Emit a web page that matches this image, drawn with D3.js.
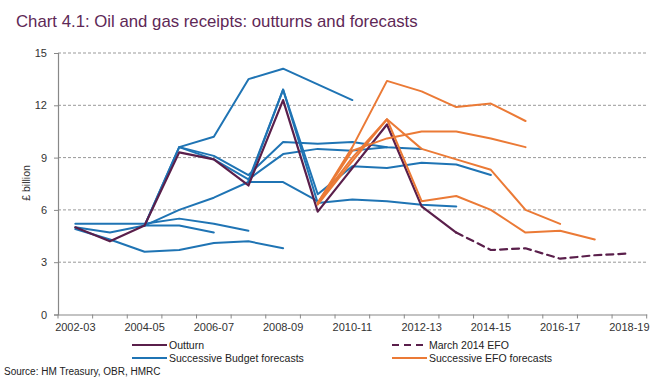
<!DOCTYPE html>
<html lang="en">
  <head>
    <meta charset="UTF-8" />
    <title>Chart 4.1: Oil and gas receipts</title>
    <script src="https://d3js.org/d3.v7.min.js"></script>
    <style>
      body { margin: 0; background: #fff; }
      text { font-family: "Liberation Sans", Arial, sans-serif; fill: #333; }
      .grid line { stroke: #999; stroke-dasharray: 3 2; }
      .line { fill: none; stroke-linejoin: round; stroke-linecap: round; }
    </style>
  </head>
  <body>
    <svg id="chart" width="670" height="387"></svg>
    <script>
      const years = ["2002-03", "2003-04", "2004-05", "2005-06", "2006-07", "2007-08", "2008-09",
        "2009-10", "2010-11", "2011-12", "2012-13", "2013-14", "2014-15", "2015-16",
        "2016-17", "2017-18", "2018-19"];
      const yTicks = [0, 3, 6, 9, 12, 15];
      const labelYears = years.filter((d, i) => i % 2 === 0);

      // values in £ billion, one per year (null = no value)
      const outturn = [5.0, 4.2, 5.1, 9.3, 8.9, 7.4, 12.3, 5.9, 8.4, 10.9, 6.2, 4.7, null, null, null, null, null];
      const march2014EFO = [null, null, null, null, null, null, null, null, null, null, null, 4.7, 3.7, 3.8, 3.2, 3.4, 3.5];

      const budget1 = [4.9, 4.3, 3.6, 3.7, 4.1, 4.2, 3.8, null, null, null, null, null, null, null, null, null, null];
      const budget2 = [5.0, 4.7, 5.1, 5.1, 4.7, null, null, null, null, null, null, null, null, null, null, null, null];
      const budget3 = [5.2, 5.2, 5.2, 5.5, 5.2, 4.8, null, null, null, null, null, null, null, null, null, null, null];
      const budget4 = [null, null, 5.1, 6.0, 6.7, 7.6, 7.6, 6.5, null, null, null, null, null, null, null, null, null];
      const budget5 = [null, null, 5.1, 9.6, 10.2, 13.5, 14.1, 13.2, 12.3, null, null, null, null, null, null, null, null];
      const budget6 = [null, null, 5.1, 9.6, 9.1, 8.0, 9.9, 9.8, 9.9, 9.6, 9.5, null, null, null, null, null, null];
      const budget7 = [null, null, null, 9.6, 8.9, 7.75, 9.2, 9.5, 9.4, 9.6, null, null, null, null, null, null, null];
      const budget8 = [null, null, null, null, null, 7.7, 12.9, 6.4, 6.6, 6.5, 6.3, 6.2, null, null, null, null, null];
      const budget9 = [null, null, null, null, null, 7.6, 12.9, 6.9, 8.5, 8.4, 8.7, 8.6, 8.0, null, null, null, null];

      const efo1 = [null, null, null, null, null, null, null, 6.4, 9.6, 13.4, 12.8, 11.9, 12.1, 11.1, null, null, null];
      const efo2 = [null, null, null, null, null, null, null, 6.3, 8.8, 11.2, 6.5, 6.8, 6.0, 4.7, 4.8, 4.3, null];
      const efo3 = [null, null, null, null, null, null, null, 6.4, 9.0, 11.2, 9.5, 8.9, 8.3, 6.0, 5.2, null, null];
      const efo4 = [null, null, null, null, null, null, null, 6.4, 9.4, 10.1, 10.5, 10.5, 10.1, 9.6, null, null, null];

      const budgets = [budget1, budget2, budget3, budget4, budget5, budget6, budget7, budget8, budget9];
      const efos = [efo1, efo2, efo3, efo4];

      const purple = "#5a1f4b", blue = "#1f74b4", orange = "#eb7a36";

      const svg = d3.select("#chart");
      const x = d3.scaleBand().domain(years).range([58, 646.7]).padding(0);
      const y = d3.scaleLinear().domain([0, 15]).range([314.5, 53]);
      const cx = (d) => x(d) + x.bandwidth() / 2;

      // title
      const title = svg.append("text")
        .attr("x", 16).attr("y", 27)
        .style("font-size", "17px").style("fill", "#5e2856")
        .text("Chart 4.1: Oil and gas receipts: outturns and forecasts");
      const tw = title.node().getComputedTextLength();
      title.style("font-size", (17 * 402 / tw) + "px");

      // gridlines
      svg.append("g").attr("class", "grid")
        .selectAll("line").data(yTicks.filter((d) => d > 0)).join("line")
        .attr("x1", 58).attr("x2", 646.7)
        .attr("y1", (d) => y(d)).attr("y2", (d) => y(d));

      // y axis
      const yAxis = svg.append("g").attr("transform", "translate(58,0)")
        .call(d3.axisLeft(y).tickValues(yTicks).tickSize(4).tickPadding(7));
      yAxis.select(".domain").attr("stroke", "#888").attr("stroke-width", 1.2);
      yAxis.selectAll(".tick line").attr("stroke", "#888");
      yAxis.selectAll("text").style("font-size", "11px").style("fill", "#333");

      svg.append("text")
        .attr("transform", "translate(30,183) rotate(-90)")
        .attr("text-anchor", "middle")
        .style("font-size", "10.5px")
        .text("£ billion");

      // x axis
      const xAxis = svg.append("g").attr("transform", "translate(0,314.5)")
        .call(d3.axisBottom(x).tickValues(labelYears).tickSize(0).tickPadding(9));
      xAxis.select(".domain").attr("stroke", "#888").attr("stroke-width", 1.2);
      xAxis.selectAll("text").style("font-size", "11px").style("fill", "#333");
      xAxis.append("g").selectAll("line")
        .data(years.concat(["end"])).join("line")
        .attr("x1", (d) => d === "end" ? x.range()[1] : x(d))
        .attr("x2", (d) => d === "end" ? x.range()[1] : x(d))
        .attr("y1", 0).attr("y2", 4)
        .attr("stroke", "#888");

      const line = d3.line()
        .defined((d) => d != null)
        .x((d, i) => cx(years[i]))
        .y((d) => y(d));

      svg.append("g").selectAll("path").data(budgets).join("path")
        .attr("class", "line").attr("d", line)
        .attr("stroke", blue).attr("stroke-width", 2);

      svg.append("path").datum(outturn)
        .attr("class", "line").attr("d", line)
        .attr("stroke", purple).attr("stroke-width", 2.2);

      svg.append("g").selectAll("path").data(efos).join("path")
        .attr("class", "line").attr("d", line)
        .attr("stroke", orange).attr("stroke-width", 2);

      svg.append("path").datum(march2014EFO)
        .attr("class", "line").attr("d", line)
        .attr("stroke", purple).attr("stroke-width", 2.2)
        .attr("stroke-dasharray", "7 5").attr("stroke-linecap", "butt");

      // legend
      const legend = [
        { label: "Outturn", color: purple, dash: null, x: 132, y: 345 },
        { label: "Successive Budget forecasts", color: blue, dash: null, x: 132, y: 358 },
        { label: "March 2014 EFO", color: purple, dash: "7 5", x: 392, y: 345 },
        { label: "Successive EFO forecasts", color: orange, dash: null, x: 392, y: 358 }
      ];
      const lg = svg.append("g").selectAll("g").data(legend).join("g")
        .attr("transform", (d) => `translate(${d.x},${d.y})`);
      lg.append("line")
        .attr("x1", 0).attr("x2", 35).attr("y1", 0).attr("y2", 0)
        .attr("stroke", (d) => d.color).attr("stroke-width", 2.2)
        .attr("stroke-dasharray", (d) => d.dash);
      lg.append("text")
        .attr("x", 37).attr("y", 4)
        .style("font-size", "10.5px").style("fill", "#222")
        .text((d) => d.label);

      svg.append("text")
        .attr("x", 4).attr("y", 375)
        .style("font-size", "10px").style("fill", "#222")
        .text("Source: HM Treasury, OBR, HMRC");
    </script>
  </body>
</html>
